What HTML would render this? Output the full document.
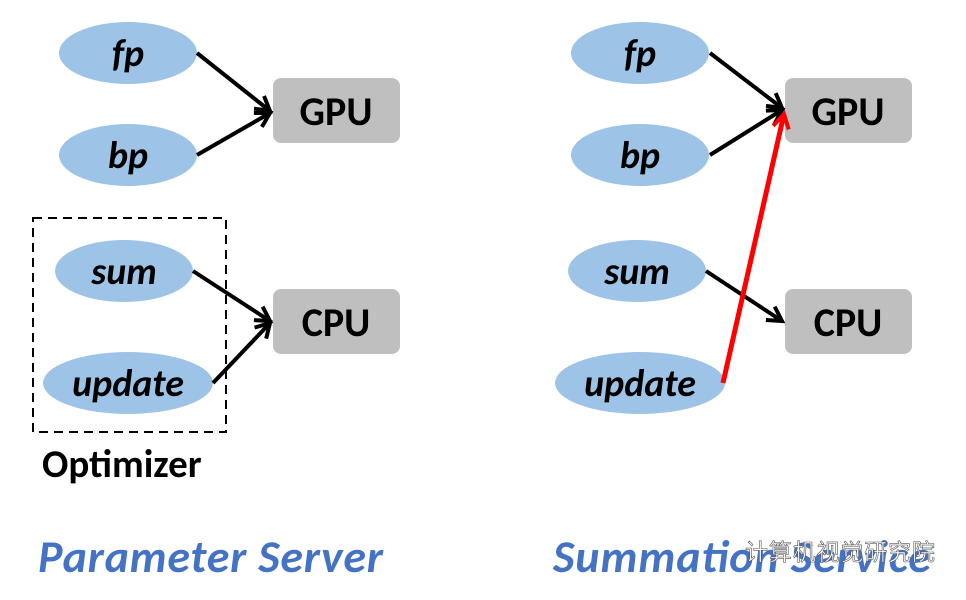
<!DOCTYPE html><html><head><style>body{margin:0;background:#fff}</style></head><body>
<svg width="966" height="595" xmlns="http://www.w3.org/2000/svg" font-family="Calibri, 'Liberation Sans', sans-serif" font-weight="bold">
<defs>
<marker id="ar" markerWidth="20" markerHeight="20" refX="16" refY="10" orient="auto" markerUnits="userSpaceOnUse"><path d="M2,2 L16,10 L2,18" fill="none" stroke="#000" stroke-width="4"/></marker>
<marker id="rr" markerWidth="20" markerHeight="20" refX="16" refY="10" orient="auto" markerUnits="userSpaceOnUse"><path d="M2,2 L16,10 L2,18" fill="none" stroke="#f00" stroke-width="4"/></marker></defs>
<g fill="#9dc3e6">
<ellipse cx="128" cy="53" rx="69" ry="31"/><ellipse cx="128" cy="155" rx="69" ry="31"/>
<ellipse cx="124" cy="271" rx="69" ry="31"/><ellipse cx="128" cy="383" rx="85" ry="31"/>
<ellipse cx="640" cy="53" rx="69" ry="31"/><ellipse cx="640" cy="155" rx="69" ry="31"/>
<ellipse cx="637" cy="271" rx="69" ry="31"/><ellipse cx="640" cy="383" rx="85" ry="31"/></g>
<g fill="#bfbfbf"><rect x="273" y="78" width="127" height="65" rx="8"/><rect x="273" y="289" width="127" height="65" rx="8"/>
<rect x="785" y="78" width="127" height="65" rx="8"/><rect x="785" y="289" width="127" height="65" rx="8"/></g>
<rect x="33" y="218" width="193" height="214" fill="none" stroke="#000" stroke-width="2" stroke-dasharray="9,6"/>
<g stroke="#000" stroke-width="4" marker-end="url(#ar)">
<line x1="197" y1="53" x2="270" y2="111"/><line x1="197" y1="155" x2="270" y2="113"/>
<line x1="193" y1="271" x2="270" y2="321"/><line x1="213" y1="383" x2="270" y2="323"/>
<line x1="710" y1="53" x2="782" y2="108"/><line x1="710" y1="155" x2="782" y2="110"/>
<line x1="706" y1="271" x2="782" y2="321"/></g>
<line x1="723" y1="383" x2="784" y2="114" stroke="#f00" stroke-width="5" marker-end="url(#rr)"/>
<g font-style="italic" font-size="38" text-anchor="middle" fill="#000">
<text x="128" y="66">fp</text><text x="128" y="168">bp</text><text x="124" y="284">sum</text><text x="128" y="396">update</text>
<text x="640" y="66">fp</text><text x="640" y="168">bp</text><text x="637" y="284">sum</text><text x="640" y="396">update</text></g>
<g font-size="40" text-anchor="middle"><text x="336" y="125">GPU</text><text x="336" y="336">CPU</text><text x="848" y="125">GPU</text><text x="848" y="336">CPU</text></g>
<text x="42" y="477" font-size="39">Optimizer</text>
<g font-size="46" font-style="italic" fill="#4472c4"><text x="38" y="572" textLength="345">Parameter Server</text><text x="553" y="572" textLength="378">Summation Service</text></g>
<text x="745" y="560" font-size="23" font-weight="normal" fill="#fff" stroke="#555" stroke-width="0.6" textLength="190" font-family="'Liberation Sans','Noto Sans CJK SC',sans-serif">计算机视觉研究院</text>
</svg></body></html>
